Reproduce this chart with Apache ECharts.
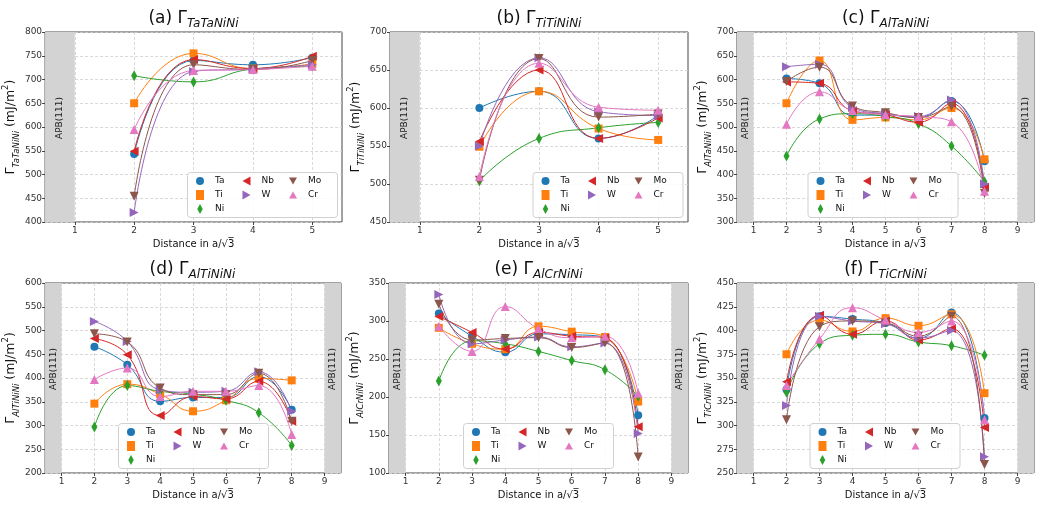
<!DOCTYPE html>
<html><head><meta charset="utf-8">
<script src="https://cdn.jsdelivr.net/npm/echarts@6/dist/echarts.min.js"></script>
<style>html,body{margin:0;padding:0;background:#fff}#c{width:1042px;height:510px}</style>
</head><body><div id="c"></div>
<script>
// ---------- data ----------
const xShort = [2, 3, 4, 5];
const xLong = [2, 3, 4, 5, 6, 7, 8];
const xTicksShort = [1, 2, 3, 4, 5];
const xTicksLong = [1, 2, 3, 4, 5, 6, 7, 8, 9];
const elements = ['Ta', 'Ti', 'Ni', 'Nb', 'W', 'Mo', 'Cr'];

// (a) TaTaNiNi
const aTa = [543, 740, 731, 746];
const aTi = [650, 755, 723, 733];
const aNi = [708, 695, 722, 728];
const aNb = [549, 742, 723, 749];
const aW  = [420, 717, 722, 731];
const aMo = [454, 731, 721, 740];
const aCr = [595, 719, 721, 728];
// (b) TiTiNiNi
const bTa = [600, 622, 560, 590];
const bTi = [549, 622, 573, 558];
const bNi = [504, 560, 574, 581];
const bNb = [556, 650, 560, 587];
const bW  = [550, 666, 595, 590];
const bMo = [505, 665, 588, 592];
const bCr = [510, 659, 601, 597];
// (c) AlTaNiNi
const cTa = [602, 592, 525, 525, 520, 555, 428];
const cTi = [550, 640, 515, 520, 515, 540, 432];
const cNi = [439, 517, 528, 522, 507, 460, 385];
const cNb = [595, 592, 534, 526, 510, 550, 373];
const cW  = [627, 632, 541, 528, 522, 557, 380];
const cMo = [596, 626, 544, 530, 520, 543, 360];
const cCr = [506, 574, 535, 526, 522, 511, 365];
// (d) AlTiNiNi
const dTa = [466, 428, 351, 359, 359, 403, 333];
const dTi = [346, 387, 366, 330, 353, 399, 395];
const dNi = [297, 384, 372, 366, 353, 327, 258];
const dNb = [483, 449, 321, 361, 356, 393, 309];
const dW  = [519, 477, 375, 370, 372, 413, 330];
const dMo = [493, 476, 379, 365, 365, 410, 309];
const dCr = [397, 421, 361, 372, 372, 384, 281];
// (e) AlCrNiNi
const eTa = [310, 280, 259, 283, 282, 278, 176];
const eTi = [291, 270, 263, 293, 286, 279, 194];
const eNi = [221, 274, 270, 260, 248, 236, 201];
const eNb = [306, 285, 263, 285, 280, 278, 161];
const eW  = [335, 270, 275, 279, 266, 271, 152];
const eMo = [322, 275, 277, 278, 265, 271, 121];
const eCr = [293, 260, 319, 290, 278, 280, 205];
// (f) TiCrNiNi
const fTa = [338, 415, 412, 408, 392, 419, 308];
const fTi = [375, 411, 399, 413, 405, 417, 334];
const fNi = [335, 386, 395, 396, 388, 384, 374];
const fNb = [346, 416, 396, 410, 390, 402, 298];
const fW  = [321, 415, 410, 407, 392, 400, 267];
const fMo = [306, 404, 410, 408, 394, 415, 259];
const fCr = [342, 391, 424, 411, 398, 410, 306];

const panelLetters = ['(a)', '(b)', '(c)', '(d)', '(e)', '(f)'];
const panelSubs = ['TaTaNiNi', 'TiTiNiNi', 'AlTaNiNi', 'AlTiNiNi', 'AlCrNiNi', 'TiCrNiNi'];
const yMins = [400, 450, 300, 200, 100, 250];
const yMaxs = [800, 700, 700, 600, 350, 450];
const ySteps = [50, 50, 50, 50, 50, 25];
const bandLabel = 'APB(111)';

const panelValues = [
  [aTa, aTi, aNi, aNb, aW, aMo, aCr],
  [bTa, bTi, bNi, bNb, bW, bMo, bCr],
  [cTa, cTi, cNi, cNb, cW, cMo, cCr],
  [dTa, dTi, dNi, dNb, dW, dMo, dCr],
  [eTa, eTi, eNi, eNb, eW, eMo, eCr],
  [fTa, fTi, fNi, fNb, fW, fMo, fCr]
];

// ---------- styles / layout ----------
const FONT = 'DejaVu Sans';
const colors = {Ta:'#1f77b4', Ti:'#ff7f0e', Ni:'#2ca02c', Nb:'#d62728', W:'#9467bd', Mo:'#8c564b', Cr:'#e377c2'};
const diamondPath = 'path://M0,-10L5.5,0L0,10L-5.5,0Z';
const triLeft = 'path://M0,5L9,0L9,10Z';
const triRight = 'path://M9,5L0,0L0,10Z';
const triDown = 'path://M0,0L10,0L5,9Z';
const triUp = 'path://M5,0L10,9L0,9Z';
const symbols = {
  Ta:{symbol:'circle', size:8},
  Ti:{symbol:'rect', size:8},
  Ni:{symbol:diamondPath, size:[6,11]},
  Nb:{symbol:triLeft, size:9},
  W:{symbol:triRight, size:9},
  Mo:{symbol:triDown, size:9},
  Cr:{symbol:triUp, size:9}
};
const legendIcons = {Ta:'circle', Ti:'rect', Ni:diamondPath, Nb:triLeft, W:triRight, Mo:triDown, Cr:triUp};
const legendOrder = ['Ta', 'Nb', 'Mo', 'Ti', 'W', 'Cr', 'Ni'];
const grids = [
  {left:45, top:32, width:297, height:190},
  {left:390, top:32, width:298, height:190},
  {left:737, top:32, width:297, height:190},
  {left:44, top:283, width:297, height:190},
  {left:389, top:283, width:299, height:190},
  {left:737, top:283, width:297, height:190}
];
const legendBoxes = [
  [187.5, 172.5], [533, 172.5], [808, 172.5],
  [118.5, 423.5], [463.5, 423.5], [810, 423.5]
];

const option = {
  animation: false,
  textStyle: {fontFamily: FONT},
  grid: grids.map(g => Object.assign({show:true, borderColor:'#444', borderWidth:1, backgroundColor:'transparent', containLabel:false}, g)),
  xAxis: [], yAxis: [], series: [], legend: [], graphic: []
};

panelValues.forEach((vals, p) => {
  const isShort = p < 2;
  const xs = isShort ? xShort : xLong;
  const ticks = isShort ? xTicksShort : xTicksLong;
  const xmax = isShort ? 5.5 : 9.5;
  option.xAxis.push({
    type:'value', gridIndex:p, min:0.5, max:xmax, minInterval:1, maxInterval:1,
    axisLine:{show:false},
    axisTick:{show:true, length:3, customValues:ticks, lineStyle:{color:'#444'}},
    axisLabel:{customValues:ticks, fontSize:9, color:'#333', margin:4},
    splitLine:{show:true, lineStyle:{color:'#cfcfcf', type:[3,2], width:0.8}},
    name:'Distance in a/√3̅', nameLocation:'middle', nameGap:17,
    nameTextStyle:{fontSize:10, color:'#111', fontFamily:FONT}
  });
  option.yAxis.push({
    type:'value', gridIndex:p, min:yMins[p], max:yMaxs[p], interval:ySteps[p],
    axisLine:{show:false},
    axisTick:{show:true, length:3, lineStyle:{color:'#444'}},
    axisLabel:{fontSize:9, color:'#333', margin:3},
    splitLine:{show:true, lineStyle:{color:'#cfcfcf', type:[3,2], width:0.8}},
    name:'{g|Γ}{s|' + panelSubs[p] + '}{g| (mJ/m}{p|2}{g|)}',
    nameLocation:'middle', nameGap:22,
    nameTextStyle:{
      color:'#111',
      rich:{
        g:{fontSize:12.5, lineHeight:20, fontFamily:FONT, color:'#111'},
        s:{fontSize:8.5, lineHeight:8, verticalAlign:'bottom', fontStyle:'italic', fontFamily:FONT, color:'#111'},
        p:{fontSize:8.5, lineHeight:9, verticalAlign:'top', fontFamily:FONT, color:'#111'}
      }
    }
  });
  elements.forEach((el, k) => {
    const s = symbols[el];
    const ser = {
      type:'line', name:el, xAxisIndex:p, yAxisIndex:p,
      data: xs.map((x, i) => [x, vals[k][i]]),
      smooth:0.5, symbol:s.symbol, symbolSize:s.size, symbolKeepAspect:false,
      showSymbol:true, showAllSymbol:true,
      lineStyle:{width:1, color:colors[el]},
      itemStyle:{color:colors[el], borderWidth:0},
      emphasis:{disabled:true}, silent:true, z:2
    };
    if (k === 0) {
      const areas = [[{xAxis:0.5}, {xAxis:1}]];
      if (!isShort) areas.push([{xAxis:9}, {xAxis:9.5}]);
      ser.markArea = {
        silent:true,
        itemStyle:{color:'#d3d3d3', opacity:1},
        label:{show:true, position:'inside', rotate:90, formatter:bandLabel, fontSize:9, color:'#222', offset:[9,0], fontFamily:FONT},
        data: areas
      };
    }
    option.series.push(ser);
  });
  const [bx, by] = legendBoxes[p];
  option.graphic.push({
    type:'rect', z:3, silent:true,
    shape:{x:bx, y:by, width:150, height:45, r:3},
    style:{fill:'rgba(255,255,255,0.85)', stroke:'#d0d0d0', lineWidth:1}
  });
  option.legend.push({
    left:bx + 8.5, top:by + 3, width:162, orient:'horizontal',
    padding:0, itemGap:3, itemWidth:8, itemHeight:10, symbolKeepAspect:true,
    selectedMode:false, z:4,
    textStyle:{fontSize:9, color:'#111', width:24.5, lineHeight:11, padding:[0,0,0,6], fontFamily:FONT},
    data: legendOrder.map(n => ({name:n, icon:legendIcons[n]}))
  });
  const g = grids[p];
  option.graphic.push({
    type:'text', silent:true,
    x: g.left + g.width / 2, y: g.top - 13,
    style:{
      text:'{m|' + panelLetters[p] + ' Γ}{s|' + panelSubs[p] + '}',
      align:'center', verticalAlign:'middle',
      rich:{
        m:{fontSize:17, lineHeight:22, fontFamily:FONT, fill:'#111', color:'#111'},
        s:{fontSize:12, lineHeight:16, verticalAlign:'bottom', fontStyle:'italic', fontFamily:FONT, fill:'#111', color:'#111'}
      }
    }
  });
});

const chart = echarts.init(document.getElementById('c'), null, {renderer:'canvas'});
chart.setOption(option);
</script></body></html>
